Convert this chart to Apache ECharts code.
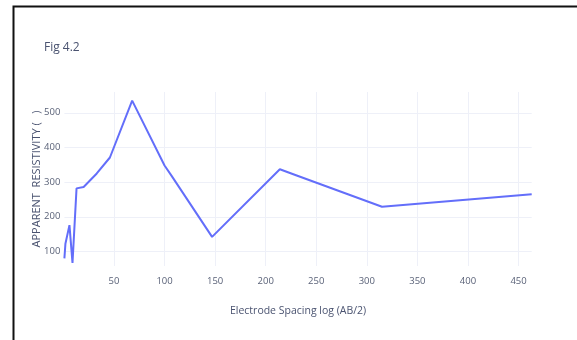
<!DOCTYPE html>
<html>
<head>
<meta charset="utf-8">
<script src="https://cdn.jsdelivr.net/npm/echarts@6/dist/echarts.min.js"></script>
<style>
html,body{margin:0;padding:0;background:#fff;}
#c{width:577px;height:340px;}
</style>
</head>
<body>
<div id="c"></div>
<script>
// Electrode spacing (AB/2) and apparent resistivity
var spacing = [1, 2, 6, 9, 13, 20, 33, 46, 68, 100, 107, 147, 214, 230, 315, 463];
var resistivity = [80, 122, 176, 67, 282, 286, 325, 371, 535, 348, 318, 142, 337, 320, 229, 265];
var xTicks = [50, 100, 150, 200, 250, 300, 350, 400, 450];
var yTicks = [100, 200, 300, 400, 500];

var titleText = 'Fig 4.2';
var xName = 'Electrode Spacing log (AB/2)';
var yName = 'APPARENT  RESISTIVITY (   )';

var pts = spacing.map(function (x, i) { return [x, resistivity[i]]; });
var font = "'Open Sans',sans-serif";
var chart = echarts.init(document.getElementById('c'), null, {renderer: 'canvas'});
chart.setOption({
  animation: false,
  backgroundColor: '#fff',
  title: {
    text: titleText, left: 39, top: 37,
    textStyle: {fontFamily: font, fontSize: 12, fontWeight: 'normal', color: '#4a5370'}
  },
  graphic: [{
    type: 'polyline', silent: true,
    shape: {points: [[13.5, 340], [13.5, 6.5], [577, 6.5]]},
    style: {stroke: '#111', lineWidth: 2, fill: null}
  }],
  grid: {left: 64.4, right: 45.3, top: 92, bottom: 74},
  xAxis: {
    type: 'value', min: 1, max: 463,
    name: xName, nameLocation: 'middle', nameGap: 40,
    nameTextStyle: {fontFamily: font, fontSize: 10.5, color: '#4a5370'},
    axisLine: {show: false},
    axisTick: {show: false, customValues: xTicks},
    axisLabel: {customValues: xTicks, fontFamily: font, fontSize: 9.5, color: '#5a6278', margin: 10},
    splitLine: {show: true, lineStyle: {color: '#eef0f8', width: 1}}
  },
  yAxis: {
    type: 'value', min: 58, max: 560,
    name: yName, nameLocation: 'middle', nameGap: 22, nameRotate: 90,
    nameMoveOverlap: false,
    nameTextStyle: {fontFamily: font, fontSize: 11, color: '#4a5370'},
    axisLine: {show: false},
    axisTick: {show: false, customValues: yTicks},
    axisLabel: {customValues: yTicks, fontFamily: font, fontSize: 9.5, color: '#5a6278', margin: 4},
    splitLine: {show: true, lineStyle: {color: '#eef0f8', width: 1}}
  },
  series: [{
    type: 'line', data: pts, showSymbol: false, symbol: 'none',
    lineStyle: {color: '#636efa', width: 2}
  }]
});
</script>
</body>
</html>
